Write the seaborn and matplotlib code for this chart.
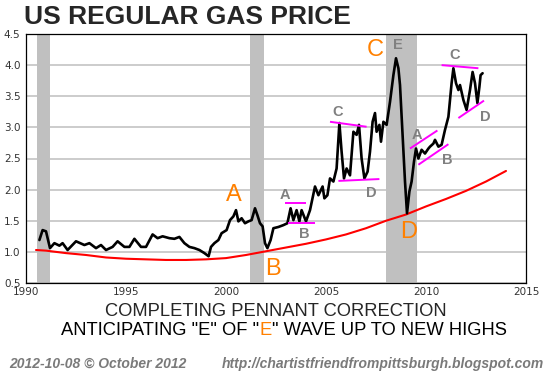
import numpy as np
import pandas as pd
import matplotlib
matplotlib.use("Agg")
import matplotlib.pyplot as plt
from matplotlib import font_manager
import seaborn as sns

# ---------------- data ----------------
gas_year = [1990.67, 1990.83, 1991.0, 1991.2, 1991.42, 1991.67, 1991.83, 1992.08, 1992.5, 1992.92,
            1993.17, 1993.5, 1993.75, 1994.0, 1994.33, 1994.58, 1994.92, 1995.17, 1995.42, 1995.75,
            1996.0, 1996.33, 1996.58, 1996.83, 1997.17, 1997.42, 1997.67, 1997.92, 1998.17, 1998.42,
            1998.67, 1998.92, 1999.13, 1999.25, 1999.42, 1999.62, 1999.78, 2000.03, 2000.2, 2000.37,
            2000.5, 2000.62, 2000.78, 2000.95, 2001.12, 2001.28, 2001.45, 2001.57, 2001.7, 2001.83,
            2001.95, 2002.07, 2002.23, 2002.37, 2002.62, 2002.87, 2003.07, 2003.23, 2003.37, 2003.53,
            2003.67, 2003.78, 2004.0, 2004.2, 2004.45, 2004.62, 2004.83, 2004.92, 2005.07, 2005.2,
            2005.37, 2005.53, 2005.67, 2005.78, 2005.9, 2006.03, 2006.2, 2006.37, 2006.53, 2006.65,
            2006.78, 2006.92, 2007.08, 2007.2, 2007.33, 2007.45, 2007.53, 2007.67, 2007.75, 2007.87,
            2008.03, 2008.2, 2008.37, 2008.5, 2008.62, 2008.7, 2008.83, 2008.95, 2009.05, 2009.17,
            2009.28, 2009.4, 2009.5, 2009.62, 2009.78, 2009.95, 2010.12, 2010.2, 2010.37, 2010.45,
            2010.62, 2010.78, 2010.95, 2011.12, 2011.28, 2011.37, 2011.5, 2011.62, 2011.7, 2011.87,
            2012.03, 2012.2, 2012.33, 2012.45, 2012.57, 2012.67, 2012.73, 2012.83]
gas_price = [1.19, 1.35, 1.33, 1.06, 1.14, 1.10, 1.14, 1.03, 1.17, 1.11,
             1.14, 1.06, 1.11, 1.03, 1.08, 1.17, 1.08, 1.08, 1.21, 1.08,
             1.08, 1.28, 1.22, 1.25, 1.22, 1.21, 1.24, 1.14, 1.08, 1.06,
             1.03, 0.98, 0.93, 1.08, 1.14, 1.19, 1.30, 1.35, 1.51, 1.57,
             1.67, 1.49, 1.54, 1.46, 1.49, 1.51, 1.70, 1.59, 1.46, 1.41,
             1.14, 1.06, 1.19, 1.38, 1.40, 1.43, 1.46, 1.70, 1.51, 1.67,
             1.49, 1.67, 1.49, 1.67, 2.05, 1.91, 2.05, 1.86, 1.91, 2.18,
             2.13, 2.34, 3.07, 2.61, 2.18, 2.34, 2.23, 2.93, 2.88, 3.04,
             2.50, 2.18, 2.29, 2.61, 3.09, 3.23, 2.93, 3.04, 2.77, 3.09,
             3.04, 3.41, 3.84, 4.11, 3.95, 3.68, 2.88, 2.13, 1.62, 1.97,
             2.13, 2.45, 2.66, 2.50, 2.64, 2.58, 2.66, 2.69, 2.74, 2.80,
             2.69, 2.72, 2.96, 3.17, 3.71, 3.95, 3.71, 3.60, 3.68, 3.44,
             3.28, 3.60, 3.89, 3.71, 3.39, 3.65, 3.84, 3.87]

trend_year = [1990.5, 1991, 1992, 1993, 1994, 1995, 1996, 1997, 1998, 1999, 2000, 2001, 2002,
              2003, 2004, 2005, 2006, 2007, 2008, 2009, 2010, 2011, 2012, 2013, 2014]
trend_value = [1.03, 1.02, 0.98, 0.95, 0.91, 0.89, 0.88, 0.87, 0.87, 0.88, 0.90, 0.95, 1.01,
               1.07, 1.13, 1.20, 1.28, 1.38, 1.50, 1.60, 1.73, 1.85, 1.98, 2.13, 2.30]

recessions = [(1990.55, 1991.2), (2001.2, 2001.9), (2008.0, 2009.55)]

# pennant boundary segments: (x0, y0, x1, y1)
pennant_lines = [(2002.95, 1.78, 2004.0, 1.78), (2003.1, 1.46, 2004.47, 1.46),
                 (2005.2, 3.09, 2007.03, 3.01), (2005.62, 2.14, 2007.67, 2.17),
                 (2009.2, 2.66, 2010.57, 2.95), (2009.62, 2.40, 2011.12, 2.73),
                 (2010.78, 4.00, 2012.62, 3.95), (2011.62, 3.15, 2012.9, 3.43)]

big_labels = [("A", 2000.4, 1.91), ("B", 2002.35, 0.73), ("C", 2007.45, 4.24), ("D", 2009.14, 1.32)]
small_labels = [("E", 2008.6, 4.32), ("A", 2002.95, 1.91), ("B", 2003.9, 1.29),
                ("C", 2005.57, 3.24), ("D", 2007.28, 1.95), ("A", 2009.53, 2.87),
                ("B", 2011.04, 2.47), ("C", 2011.41, 4.16), ("D", 2012.98, 3.16)]

y_ticks = [0.5, 1.0, 1.5, 2.0, 2.5, 3.0, 3.5, 4.0, 4.5]
x_ticks = [1990, 1995, 2000, 2005, 2010, 2015]

title = "US REGULAR GAS PRICE"
subtitle1 = "COMPLETING PENNANT CORRECTION"
footer_left = "2012-10-08 \u00a9 October 2012"
footer_right = "http://chartistfriendfrompittsburgh.blogspot.com"

# ---------------- style ----------------
sns.set_style("white")
plt.rcParams['font.family'] = ['Liberation Sans', 'DejaVu Sans']

ORANGE = '#ff8000'
GRAY = '#808080'
MAGENTA = '#ff00ff'

fig = plt.figure(figsize=(5.45, 3.73), dpi=100)
ax = fig.add_axes([26/545, 1 - 283/373, 500/545, 249/373])

for x0, x1 in recessions:
    ax.axvspan(x0, x1, color='#c0c0c0', lw=0, zorder=1)

gas_df = pd.DataFrame({"year": gas_year, "price": gas_price})
trend_df = pd.DataFrame({"year": trend_year, "value": trend_value})
sns.lineplot(data=trend_df, x="year", y="value", color='#ff0000', lw=1.5, ax=ax,
             estimator=None, zorder=3)
sns.lineplot(data=gas_df, x="year", y="price", color='black', lw=1.9, ax=ax,
             estimator=None, zorder=4)

for x0, y0, x1, y1 in pennant_lines:
    ax.plot([x0, x1], [y0, y1], color=MAGENTA, lw=1.4, zorder=5, solid_capstyle='butt')

for t, x, y in big_labels:
    ax.text(x, y, t, color=ORANGE, fontsize=17, ha='center', va='center', zorder=6)
for t, x, y in small_labels:
    ax.text(x, y, t, color=GRAY, fontsize=10.5, fontweight='bold', ha='center', va='center', zorder=6)

ax.set_xlim(1990, 2015)
ax.set_ylim(0.5, 4.5)
ax.set_yticks(y_ticks)
ax.set_yticklabels([f"{v:.1f}" for v in y_ticks], family='DejaVu Sans', fontsize=7.5, color='#333333')
ax.set_xticks(x_ticks)
ax.set_xticklabels([str(v) for v in x_ticks], family='DejaVu Sans', fontsize=7.5, color='#333333')
ax.tick_params(axis='y', length=0, pad=4)
ax.tick_params(axis='x', direction='in', length=5, width=0.8, pad=3, colors='black', labelcolor='#333333')
ax.yaxis.grid(True, color='#c8c8c8', lw=1.3)
ax.xaxis.grid(False)
ax.set_axisbelow(True)
ax.set_xlabel("")
ax.set_ylabel("")
for s in ax.spines.values():
    s.set_visible(True)
    s.set_color('black')
    s.set_linewidth(0.9)

# titles
fig.text(24/545, 1 - 16.5/373, title, fontsize=19, fontweight='bold', ha='left', va='center')

SUB_FS = 13.2
fig.text(276/545, 1 - 311.5/373, subtitle1, fontsize=SUB_FS, ha='center', va='center')
# second subtitle line with an orange E
line2_parts = [('ANTICIPATING "E" OF "', 'black'), ('E', ORANGE), ('" WAVE UP TO NEW HIGHS', 'black')]
fig.canvas.draw()
renderer = fig.canvas.get_renderer()
widths = []
for s, c in line2_parts:
    t = fig.text(0, 0, s, fontsize=SUB_FS)
    widths.append(t.get_window_extent(renderer).width)
    t.remove()
total = sum(widths)
xp = 284 - total / 2
for (s, c), w in zip(line2_parts, widths):
    fig.text(xp/545, 1 - 330.5/373, s, fontsize=SUB_FS, color=c, ha='left', va='center')
    xp += w

fig.text(9/545, 1 - 364/373, footer_left, fontsize=10, fontweight='bold', style='italic',
         color='#7a7a7a', ha='left', va='center')
fig.text(544/545, 1 - 364/373, footer_right, fontsize=10, fontweight='bold', style='italic',
         color='#7a7a7a', ha='right', va='center')

fig.savefig("out.png", dpi=100, facecolor='white')
